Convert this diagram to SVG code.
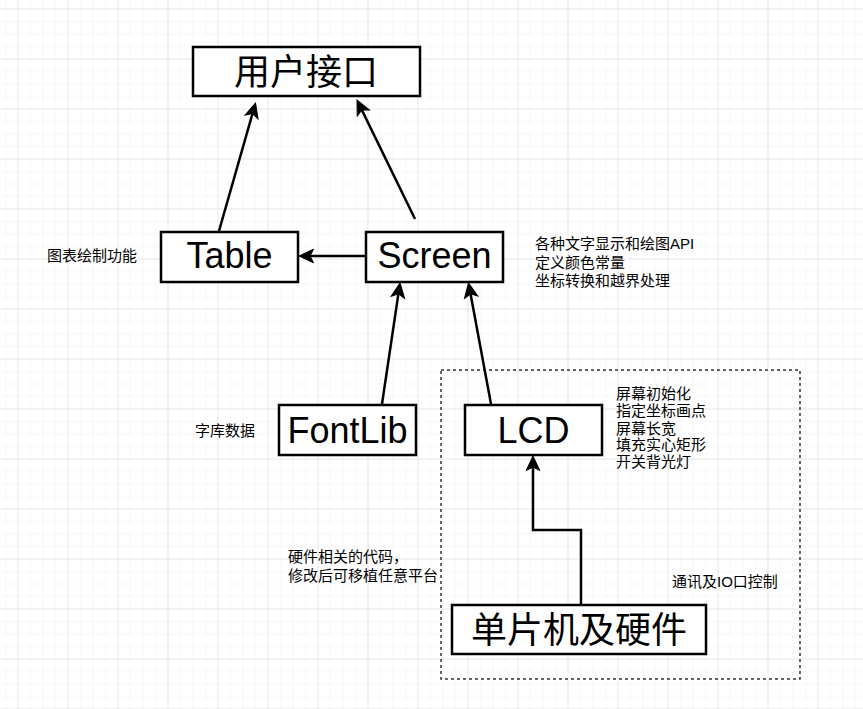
<svg xmlns="http://www.w3.org/2000/svg" width="863" height="709" viewBox="0 0 863 709">
  <defs>
    <pattern id="grid" patternUnits="userSpaceOnUse" x="17.5" y="8.5" width="50" height="50">
      <g stroke="#f6f6f6" stroke-width="1">
        <line x1="13" y1="0" x2="13" y2="50"/>
        <line x1="25.5" y1="0" x2="25.5" y2="50"/>
        <line x1="38" y1="0" x2="38" y2="50"/>
        <line x1="0" y1="13" x2="50" y2="13"/>
        <line x1="0" y1="25.5" x2="50" y2="25.5"/>
        <line x1="0" y1="38" x2="50" y2="38"/>
      </g>
      <g stroke="#e6e6e6" stroke-width="1">
        <line x1="0.5" y1="0" x2="0.5" y2="50"/>
        <line x1="0" y1="0.5" x2="50" y2="0.5"/>
      </g>
    </pattern>
    <marker id="arrow" markerUnits="userSpaceOnUse" viewBox="-5 -8 17 16" markerWidth="17" markerHeight="16" refX="0" refY="0" orient="auto" overflow="visible">
      <path d="M11,0 L-3.5,-6.8 L0,0 L-3.5,6.8 Z" fill="#000" stroke="#000" stroke-width="1" stroke-linejoin="miter"/>
    </marker>
  </defs>
  <style>
    .node rect { fill: #ffffff; stroke: #000000; stroke-width: 2.5; }
    .big { font-family: "Liberation Sans", "Noto Sans CJK SC", sans-serif; font-size: 36px; fill: #000; text-anchor: middle; }
    .small { font-family: "Liberation Sans", "Noto Sans CJK SC", sans-serif; font-size: 15px; fill: #000; dominant-baseline: central; }
    .conn { fill: none; stroke: #000; stroke-width: 2.5; marker-end: url(#arrow); }
  </style>

  <rect x="0" y="0" width="863" height="709" fill="#ffffff"/>
  <rect x="0" y="0" width="863" height="709" fill="url(#grid)"/>

  <g id="hardware-region">
    <rect x="441" y="370" width="359" height="309" fill="none" stroke="#333" stroke-width="1.5" stroke-dasharray="3 3"/>
  </g>

  <g id="connectors">
    <line class="conn" x1="219" y1="231" x2="252.5" y2="113.6"/>
    <line class="conn" x1="415" y1="219" x2="361.8" y2="109.9"/>
    <line class="conn" x1="365" y1="256" x2="310" y2="256"/>
    <line class="conn" x1="382" y1="404" x2="398.4" y2="293.9"/>
    <line class="conn" x1="491" y1="404" x2="470.5" y2="293.8"/>
    <polyline class="conn" points="581,604 581,530 533,530 533,467"/>
  </g>

  <g id="node-ui" class="node">
    <rect x="193" y="47" width="227" height="49"/>
    <text class="big" x="306" y="72.5" dominant-baseline="central">用户接口</text>
  </g>
  <g id="node-table" class="node">
    <rect x="161" y="232" width="137" height="50"/>
    <text class="big" x="229.5" y="268.3">Table</text>
  </g>
  <g id="node-screen" class="node">
    <rect x="366" y="232" width="137" height="50"/>
    <text class="big" x="434.5" y="268.3">Screen</text>
  </g>
  <g id="node-fontlib" class="node">
    <rect x="279" y="405" width="137" height="50"/>
    <text class="big" x="347.5" y="442.7">FontLib</text>
  </g>
  <g id="node-lcd" class="node">
    <rect x="465" y="405" width="137" height="50"/>
    <text class="big" x="533.5" y="442.7">LCD</text>
  </g>
  <g id="node-mcu" class="node">
    <rect x="452" y="605" width="254" height="49"/>
    <text class="big" x="579" y="630" dominant-baseline="central">单片机及硬件</text>
  </g>

  <g id="labels">
    <text class="small" x="47" y="255.5">图表绘制功能</text>
    <text class="small" x="535" y="243.3"><tspan x="535" y="243.3">各种文字显示和绘图API</tspan><tspan x="535" y="261.7">定义颜色常量</tspan><tspan x="535" y="280">坐标转换和越界处理</tspan></text>
    <text class="small" x="195" y="430">字库数据</text>
    <text class="small" x="616" y="393.3"><tspan x="616" y="393.3">屏幕初始化</tspan><tspan x="616" y="410.3">指定坐标画点</tspan><tspan x="616" y="427.6">屏幕长宽</tspan><tspan x="616" y="444.3">填充实心矩形</tspan><tspan x="616" y="460.6">开关背光灯</tspan></text>
    <text class="small" x="288" y="556"><tspan x="288" y="556">硬件相关的代码，</tspan><tspan x="288" y="574.5">修改后可移植任意平台</tspan></text>
    <text class="small" x="672" y="581.7">通讯及IO口控制</text>
  </g>
</svg>
